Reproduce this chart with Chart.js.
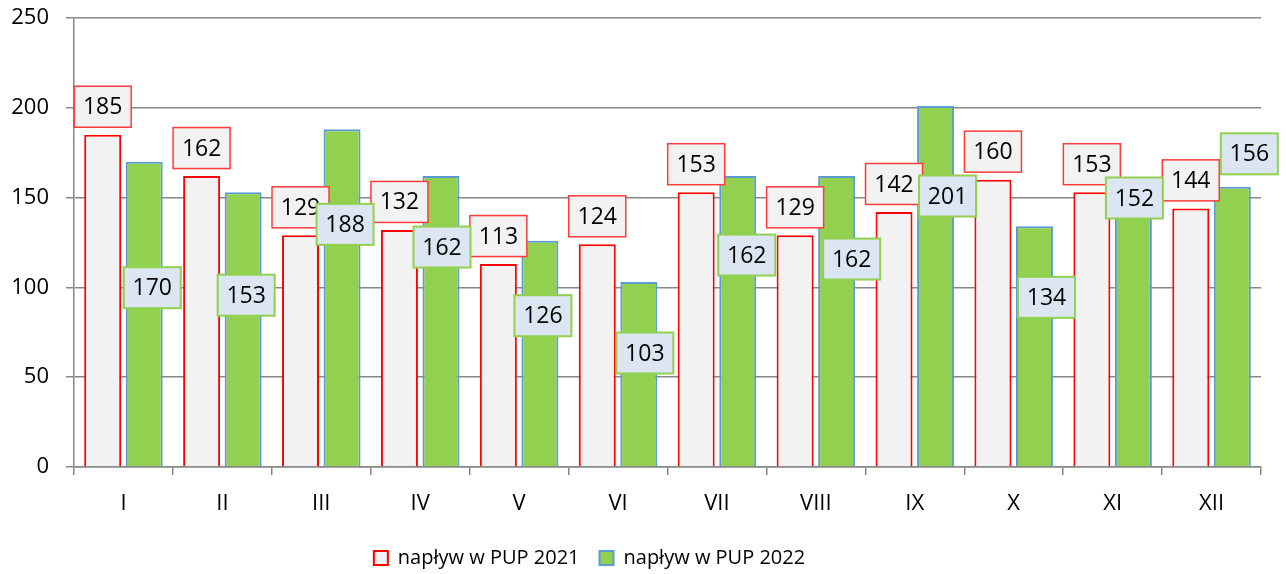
<!DOCTYPE html>
<html>
<head>
<meta charset="utf-8">
<script src="https://cdn.jsdelivr.net/npm/chart.js@4.4.1/dist/chart.umd.min.js"></script>
<style>
  html, body { margin: 0; padding: 0; background: #fff; }
  #wrap { width: 1286px; height: 574px; position: relative; }
</style>
</head>
<body>
<div id="wrap"><canvas id="chart"></canvas></div>
<script>
// months in Roman numerals
const months = ['I', 'II', 'III', 'IV', 'V', 'VI', 'VII', 'VIII', 'IX', 'X', 'XI', 'XII'];
const inflow2021 = [185, 162, 129, 132, 113, 124, 153, 129, 142, 160, 153, 144];
const inflow2022 = [170, 153, 188, 162, 126, 103, 162, 162, 201, 134, 152, 156];
const yTicks = [0, 50, 100, 150, 200, 250];

// label box offsets from the bar top (px), as placed in the original
const shift2021 = [0, -28];
const shift2022 = [
    [8, 126], [3, 103], [3, 95], [1, 71], [3, 75], [6, 71],
    [9, 79], [15, 83], [12, 90], [12, 71], [1, 4], [17, -33]
];

(function () {
    const FONT = '"Open Sans", Lato, sans-serif';
    const GRID = '#878787';

    const boxLabels = {
        id: 'boxLabels',
        afterLayout(chart) {
            // legend sits a bit left of centre in the original
            const lg = chart.legend;
            if (lg) { lg.left -= 41; lg.right -= 41; }
        },
        afterDatasetsDraw(chart) {
            const ctx = chart.ctx;
            const styles = [
                { fill: '#f2f2f2', stroke: '#ff3b3b', lw: 1.5 },
                { fill: '#dce6f2', stroke: '#92d050', lw: 2 },
            ];
            ctx.save();
            chart.data.datasets.forEach((ds, di) => {
                const meta = chart.getDatasetMeta(di);
                const st = styles[di];
                meta.data.forEach((bar, i) => {
                    const off = di === 0 ? shift2021 : shift2022[i];
                    const cx = bar.x + off[0];
                    const cy = bar.y + off[1];
                    const w = 57, h = 41;
                    ctx.fillStyle = st.fill;
                    ctx.fillRect(cx - w / 2, cy - h / 2, w, h);
                    ctx.strokeStyle = st.stroke;
                    ctx.lineWidth = st.lw;
                    ctx.strokeRect(cx - w / 2, cy - h / 2, w, h);
                    ctx.fillStyle = '#000';
                    ctx.font = '23px ' + FONT;
                    ctx.textAlign = 'center';
                    ctx.textBaseline = 'middle';
                    ctx.fillText(String(ds.data[i]), cx, cy + 1);
                });
            });
            ctx.restore();
        },
    };

    new Chart(document.getElementById('chart'), {
        type: 'bar',
        data: {
            labels: months,
            datasets: [
                {
                    label: 'napływ w PUP 2021',
                    data: inflow2021,
                    backgroundColor: '#f2f2f2',
                    borderColor: '#ff0000',
                    borderWidth: 2,
                },
                {
                    label: 'napływ w PUP 2022',
                    data: inflow2022,
                    backgroundColor: '#92d050',
                    borderColor: '#5b9bd5',
                    borderWidth: 2,
                },
            ],
        },
        options: {
            responsive: true,
            maintainAspectRatio: false,
            animation: false,
            categoryPercentage: 0.84,
            barPercentage: 0.89,
            layout: { padding: { top: 18, right: 25, left: 0, bottom: -4 } },
            plugins: {
                tooltip: { enabled: false },
                legend: {
                    position: 'bottom',
                    labels: {
                        color: '#000',
                        font: { family: FONT, size: 20 },
                        boxWidth: 14,
                        boxHeight: 14,
                        padding: 20,
                    },
                },
            },
            scales: {
                x: {
                    grid: { drawOnChartArea: false, tickLength: 8, color: GRID, lineWidth: 1.5 },
                    border: { color: GRID, width: 1.5 },
                    ticks: { color: '#000', font: { family: FONT, size: 22 }, padding: 16 },
                    afterFit: (s) => { s.height = 61; },
                },
                y: {
                    min: 0,
                    max: 250,
                    afterBuildTicks: (s) => { s.ticks = yTicks.map((v) => ({ value: v })); },
                    grid: { color: GRID, lineWidth: 1.5, tickLength: 8 },
                    border: { color: GRID, width: 1.5 },
                    ticks: { color: '#000', font: { family: FONT, size: 22 }, padding: 17 },
                    afterFit: (s) => { s.width = 74; s.paddingTop = 0; },
                },
            },
        },
        plugins: [boxLabels],
    });
})();
</script>
</body>
</html>
